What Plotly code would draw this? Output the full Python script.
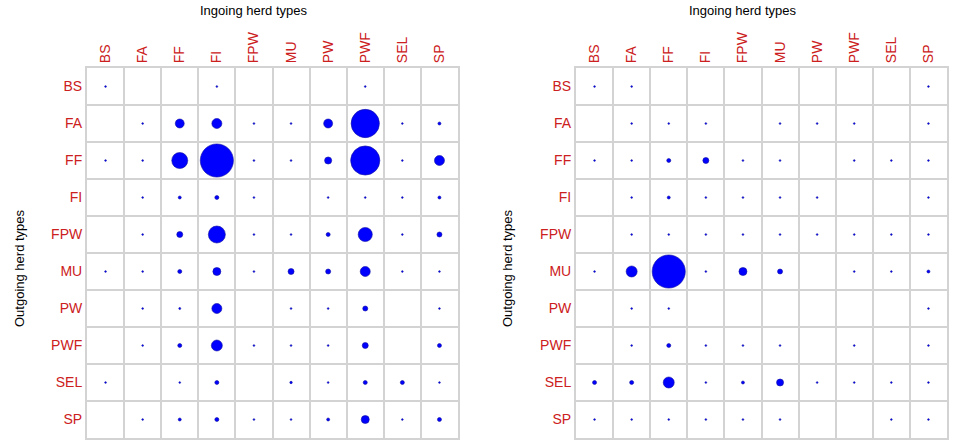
import plotly.graph_objects as go

herd_types = ['BS', 'FA', 'FF', 'FI', 'FPW', 'MU', 'PW', 'PWF', 'SEL', 'SP']

# movements, rows = outgoing herd type, columns = ingoing herd type (0 = none)
left_values = [
    [3, 0, 0, 3, 0, 0, 0, 3, 0, 0],
    [0, 3, 80, 100, 3, 3, 80, 800, 3, 9],
    [3, 3, 256, 1100, 3, 3, 50, 850, 3, 100],
    [0, 3, 9, 16, 3, 0, 3, 3, 3, 9],
    [0, 3, 36, 290, 3, 3, 16, 200, 3, 25],
    [3, 3, 16, 64, 3, 36, 25, 100, 3, 3],
    [0, 3, 4, 100, 0, 3, 3, 25, 0, 3],
    [0, 3, 16, 120, 3, 3, 3, 36, 0, 16],
    [3, 0, 3, 16, 0, 6, 3, 16, 16, 3],
    [0, 3, 9, 16, 3, 3, 9, 64, 3, 16],
]

right_values = [
    [3, 3, 0, 0, 0, 0, 0, 0, 0, 3],
    [0, 3, 3, 3, 0, 3, 3, 3, 0, 3],
    [3, 3, 16, 36, 3, 3, 0, 3, 3, 3],
    [0, 3, 9, 3, 3, 3, 3, 0, 0, 3],
    [0, 3, 3, 3, 3, 3, 3, 3, 3, 3],
    [3, 121, 1100, 3, 64, 25, 0, 3, 3, 9],
    [0, 3, 3, 0, 0, 0, 0, 0, 0, 3],
    [0, 3, 16, 3, 3, 3, 0, 3, 0, 3],
    [16, 16, 121, 3, 9, 49, 3, 3, 3, 3],
    [3, 3, 3, 3, 3, 3, 0, 0, 3, 3],
]

W, H = 957, 446
red = '#cc2020'
grid = '#d3d3d3'
font = 'Liberation Sans, Arial, sans-serif'


def points(values):
    xs, ys, ss = [], [], []
    for i, row in enumerate(values):
        for j, v in enumerate(row):
            if v > 0:
                xs.append(j)
                ys.append(i)
                ss.append(v)
    return xs, ys, ss


fig = go.Figure()
for k, values in enumerate([left_values, right_values]):
    xs, ys, ss = points(values)
    fig.add_trace(go.Scatter(
        x=xs, y=ys, mode='markers',
        xaxis='x' if k == 0 else 'x2',
        yaxis='y' if k == 0 else 'y2',
        marker=dict(size=ss, sizemode='area', sizeref=2.0, sizemin=0.8,
                    color='#0000ff', opacity=1,
                    line=dict(width=0.6, color='#1010a0')),
        showlegend=False, hoverinfo='skip'))

ytop, ybot = 68, 438
panels = [(87, 458, 253, 19), (576, 947, 742, 507)]


def px_x(p):
    return p / W


def px_y(p):
    return 1 - p / H


def xaxis(x0, x1):
    return dict(domain=[px_x(x0), px_x(x1)], range=[-0.5, 9.5], side='top',
                tickvals=list(range(10)), ticktext=herd_types, tickangle=-90,
                tickfont=dict(color=red, size=14, family=font),
                showgrid=False, zeroline=False, showline=True, mirror=True,
                linecolor=grid, linewidth=2, ticks='',
                minor=dict(tick0=-0.5, dtick=1, showgrid=True,
                           gridcolor=grid, gridwidth=2))


def yaxis(anchor):
    return dict(domain=[px_y(ybot), px_y(ytop)], range=[9.5, -0.5],
                anchor=anchor,
                tickvals=list(range(10)), ticktext=herd_types,
                tickfont=dict(color=red, size=14, family=font),
                showgrid=False, zeroline=False, showline=True, mirror=True,
                linecolor=grid, linewidth=2, ticks='',
                minor=dict(tick0=-0.5, dtick=1, showgrid=True,
                           gridcolor=grid, gridwidth=2))


annotations = []
for (x0, x1, tx, yx) in panels:
    annotations.append(dict(text='Ingoing herd types', x=px_x(tx), y=px_y(11),
                            xref='paper', yref='paper', showarrow=False,
                            xanchor='center', yanchor='middle',
                            font=dict(size=13, color='black', family=font)))
    annotations.append(dict(text='Outgoing herd types', x=px_x(yx), y=px_y(268),
                            xref='paper', yref='paper', showarrow=False,
                            xanchor='center', yanchor='middle', textangle=-90,
                            font=dict(size=13, color='black', family=font)))

fig.update_layout(
    width=W, height=H,
    margin=dict(l=0, r=0, t=0, b=0),
    paper_bgcolor='white', plot_bgcolor='white',
    xaxis=dict(xaxis(*panels[0][:2]), anchor='y'),
    yaxis=yaxis('x'),
    xaxis2=dict(xaxis(*panels[1][:2]), anchor='y2'),
    yaxis2=yaxis('x2'),
    annotations=annotations,
)

# drop the default page margin so the figure sits at the window's corner
fig.write_html('out.html', config={'displayModeBar': False},
               post_script="document.body.style.margin='0';")
